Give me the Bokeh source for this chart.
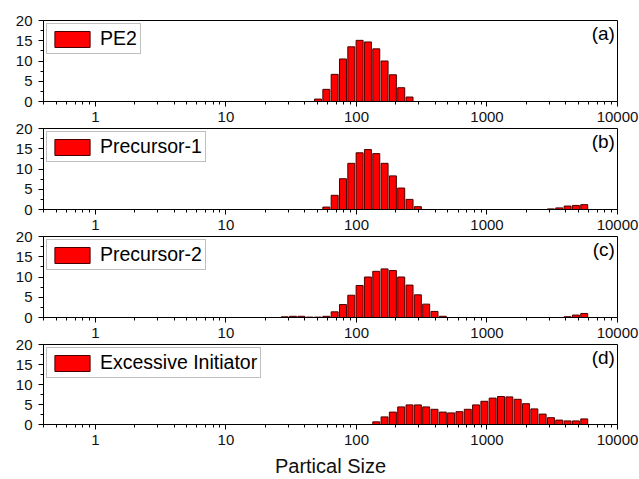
from bokeh.plotting import figure
from bokeh.models import (Range1d, FixedTicker, NumeralTickFormatter, Legend, LegendItem,
                          Label, ColumnDataSource)
from bokeh.layouts import column
from bokeh.embed import file_html
from bokeh.resources import INLINE

# Malvern size classes (nm) used by the bars
size_nm = [28.21, 32.67, 37.84, 43.82, 50.75, 58.77, 68.06, 78.82, 91.28, 105.7,
           122.4, 141.8, 164.2, 190.1, 220.2, 255.0, 295.3, 342.0, 396.1, 458.7,
           531.2, 615.1, 712.4, 825.0, 955.4, 1106, 1281, 1484, 1718, 1990,
           2305, 2669, 3091, 3580, 4145, 4801, 5560]

pe2 = [0, 0, 0, 0, 0.6, 3.0, 6.7, 10.5, 13.5, 15.1,
       14.7, 13.0, 10.0, 6.6, 3.4, 1.1, 0, 0, 0, 0,
       0, 0, 0, 0, 0, 0, 0, 0, 0, 0,
       0, 0, 0, 0, 0, 0, 0]

precursor1 = [0, 0, 0, 0, 0, 0.6, 3.5, 7.6, 11.4, 14.0,
              14.8, 13.8, 11.4, 8.3, 5.3, 2.5, 0.7, 0, 0, 0,
              0, 0, 0, 0, 0, 0, 0, 0, 0, 0,
              0, 0, 0.15, 0.4, 0.85, 1.0, 1.2]

precursor2 = [0.17, 0.3, 0.3, 0.1, 0.1, 0.3, 1.4, 3.2, 5.5, 7.9,
              10.0, 11.4, 12.0, 11.6, 10.0, 8.0, 5.6, 3.3, 1.5, 0.3,
              0, 0, 0, 0, 0, 0, 0, 0, 0, 0,
              0, 0, 0, 0, 0.2, 0.6, 1.0]

excessive = [0, 0, 0, 0, 0, 0, 0, 0, 0, 0,
             0, 0.66, 1.9, 3.1, 4.4, 4.9, 4.9, 4.4, 3.8, 3.1,
             2.9, 3.2, 3.8, 4.9, 5.8, 6.6, 7.0, 6.9, 6.3, 5.2,
             3.9, 2.6, 1.7, 1.1, 0.9, 0.9, 1.4]

series_names = ["PE2", "Precursor-1", "Precursor-2", "Excessive Initiator"]
panel_tags = ["(a)", "(b)", "(c)", "(d)"]
x_major = [1, 10, 100, 1000, 10000]
y_major = [0, 5, 10, 15, 20]
y_minor = [2.5, 7.5, 12.5, 17.5]
x_label = "Partical Size"

FONT = "Liberation Sans"
BIN = (10000 / 0.4) ** (1 / 69)
HALF = BIN ** 0.42

x_minor = [m * 10 ** e for e in range(-1, 4) for m in range(2, 10) if 0.4 <= m * 10 ** e <= 10000]

all_series = [pe2, precursor1, precursor2, excessive]
figs = []
for i, (name, vals, tag) in enumerate(zip(series_names, all_series, panel_tags)):
    last = i == 3
    top = 20 if i == 0 else 10
    bottom = 54 if last else 32
    h = top + 81 + bottom
    p = figure(width=639, height=h, x_axis_type="log",
               x_range=Range1d(0.4, 10000), y_range=Range1d(0, 20),
               output_backend="svg", toolbar_location=None,
               min_border_left=43, min_border_right=22,
               min_border_top=top, min_border_bottom=bottom)
    if i > 0:
        p.margin = (-15, 0, 0, 0)
    p.background_fill_alpha = 0
    p.border_fill_alpha = 0
    p.outline_line_color = "black"
    p.outline_line_width = 1
    p.grid.visible = False

    xs = [s for s, v in zip(size_nm, vals) if v > 0]
    vs = [v for v in vals if v > 0]
    src = ColumnDataSource(dict(left=[s / HALF for s in xs], right=[s * HALF for s in xs], top=vs))
    r = p.quad(left="left", right="right", bottom=0, top="top", source=src,
               fill_color="#ff0000", line_color="#4a0000", line_width=1)

    leg = Legend(items=[LegendItem(label=name, renderers=[r])], location="top_left",
                 margin=3, padding=3, spacing=0, glyph_width=44, glyph_height=20,
                 label_standoff=6, label_text_font=FONT, label_text_font_size="19.5px",
                 label_text_color="black",
                 border_line_color="#808080", border_line_width=1,
                 background_fill_alpha=1)
    p.add_layout(leg)

    p.add_layout(Label(x=9550, y=19.3, text=tag, text_align="right", text_baseline="top",
                       text_font=FONT, text_font_size="19px", text_color="black"))

    p.xaxis.ticker = FixedTicker(ticks=x_major, minor_ticks=x_minor)
    p.xaxis.formatter = NumeralTickFormatter(format="0")
    p.yaxis.ticker = FixedTicker(ticks=y_major, minor_ticks=y_minor)
    for ax in (p.xaxis, p.yaxis):
        ax.major_tick_out = 5
        ax.major_tick_in = 0
        ax.minor_tick_out = 3
        ax.minor_tick_in = 0
        ax.axis_line_color = "black"
        ax.major_tick_line_color = "black"
        ax.minor_tick_line_color = "black"
        ax.major_label_text_font = FONT
        ax.major_label_text_font_size = "15px"
        ax.major_label_text_color = "#111111"
    p.xaxis.major_label_standoff = 5
    p.yaxis.major_label_standoff = 6
    if last:
        p.xaxis.axis_label = x_label
        p.xaxis.axis_label_text_font = FONT
        p.xaxis.axis_label_text_font_size = "20px"
        p.xaxis.axis_label_text_font_style = "normal"
        p.xaxis.axis_label_text_color = "#111111"
        p.xaxis.axis_label_standoff = 7
    figs.append(p)

layout = column(*figs, spacing=0)
open("out.html", "w").write(file_html(layout, INLINE))
